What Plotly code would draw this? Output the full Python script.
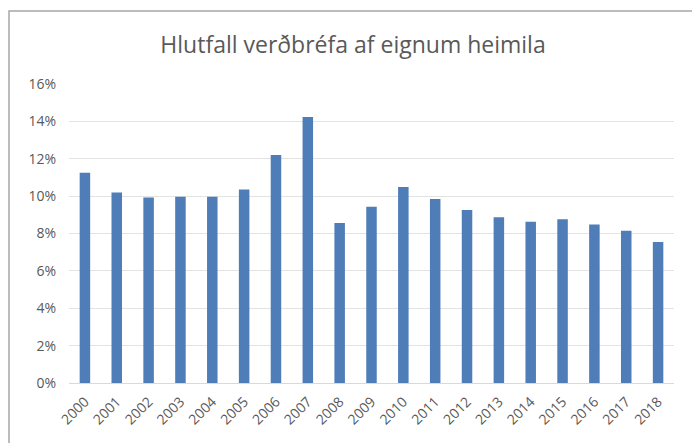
import plotly.graph_objects as go

years = ["2000", "2001", "2002", "2003", "2004", "2005", "2006", "2007", "2008", "2009",
         "2010", "2011", "2012", "2013", "2014", "2015", "2016", "2017", "2018"]
values = [11.25, 10.2, 9.93, 9.97, 9.97, 10.36, 12.2, 14.24, 8.56, 9.43,
          10.49, 9.84, 9.26, 8.87, 8.63, 8.76, 8.48, 8.15, 7.54]
y_ticks = [0, 2, 4, 6, 8, 10, 12, 14, 16]
y_labels = ["0%", "2%", "4%", "6%", "8%", "10%", "12%", "14%", "16%"]

W, H = 692, 443
ml, mr, mt, mb = 69, 18, 84, 60
pw, ph = W - ml - mr, H - mt - mb

fig = go.Figure(go.Bar(x=years, y=values, marker=dict(color="#4F7DB7", line=dict(width=0)),
                       hoverinfo="x+y"))

fig.update_layout(
    width=W, height=H,
    margin=dict(l=ml, r=mr, t=mt, b=mb, autoexpand=False),
    paper_bgcolor="white", plot_bgcolor="white",
    bargap=0.67,
    showlegend=False,
    title=dict(text="Hlutfall verðbréfa af eignum heimila", x=353 / W, xanchor="center",
               y=1 - 45 / H, yanchor="middle",
               font=dict(family="Open Sans", size=23, color="#595959"), automargin=False),
    font=dict(family="Open Sans", color="#595959"),
)
fig.update_xaxes(type="category", tickangle=-45, tickfont=dict(size=14, color="#595959"),
                 showline=True, linecolor="#d9d9d9", linewidth=1, showgrid=False,
                 ticks="", ticklabelstandoff=4, fixedrange=True, automargin=False)
fig.update_yaxes(range=[0, 16], tickvals=y_ticks, ticktext=y_labels,
                 tickfont=dict(size=14, color="#595959"),
                 showgrid=True, gridcolor="#e3e3e3", gridwidth=1, zeroline=False,
                 showline=False, ticks="", ticklabelstandoff=12, fixedrange=True,
                 automargin=False)

# outer chart frame (extends past the right and bottom edges)
fig.add_shape(type="rect", xref="paper", yref="paper",
              x0=(9 - ml) / pw, x1=(W + 20 - ml) / pw,
              y0=-(mb + 20) / ph, y1=(H - mb - 11) / ph,
              line=dict(color="#a6a6a6", width=1.5), fillcolor="rgba(0,0,0,0)", layer="above")

fig.write_html("out.html", config={"displayModeBar": False},
               post_script="document.body.style.margin='0px';document.body.style.overflow='hidden';")
